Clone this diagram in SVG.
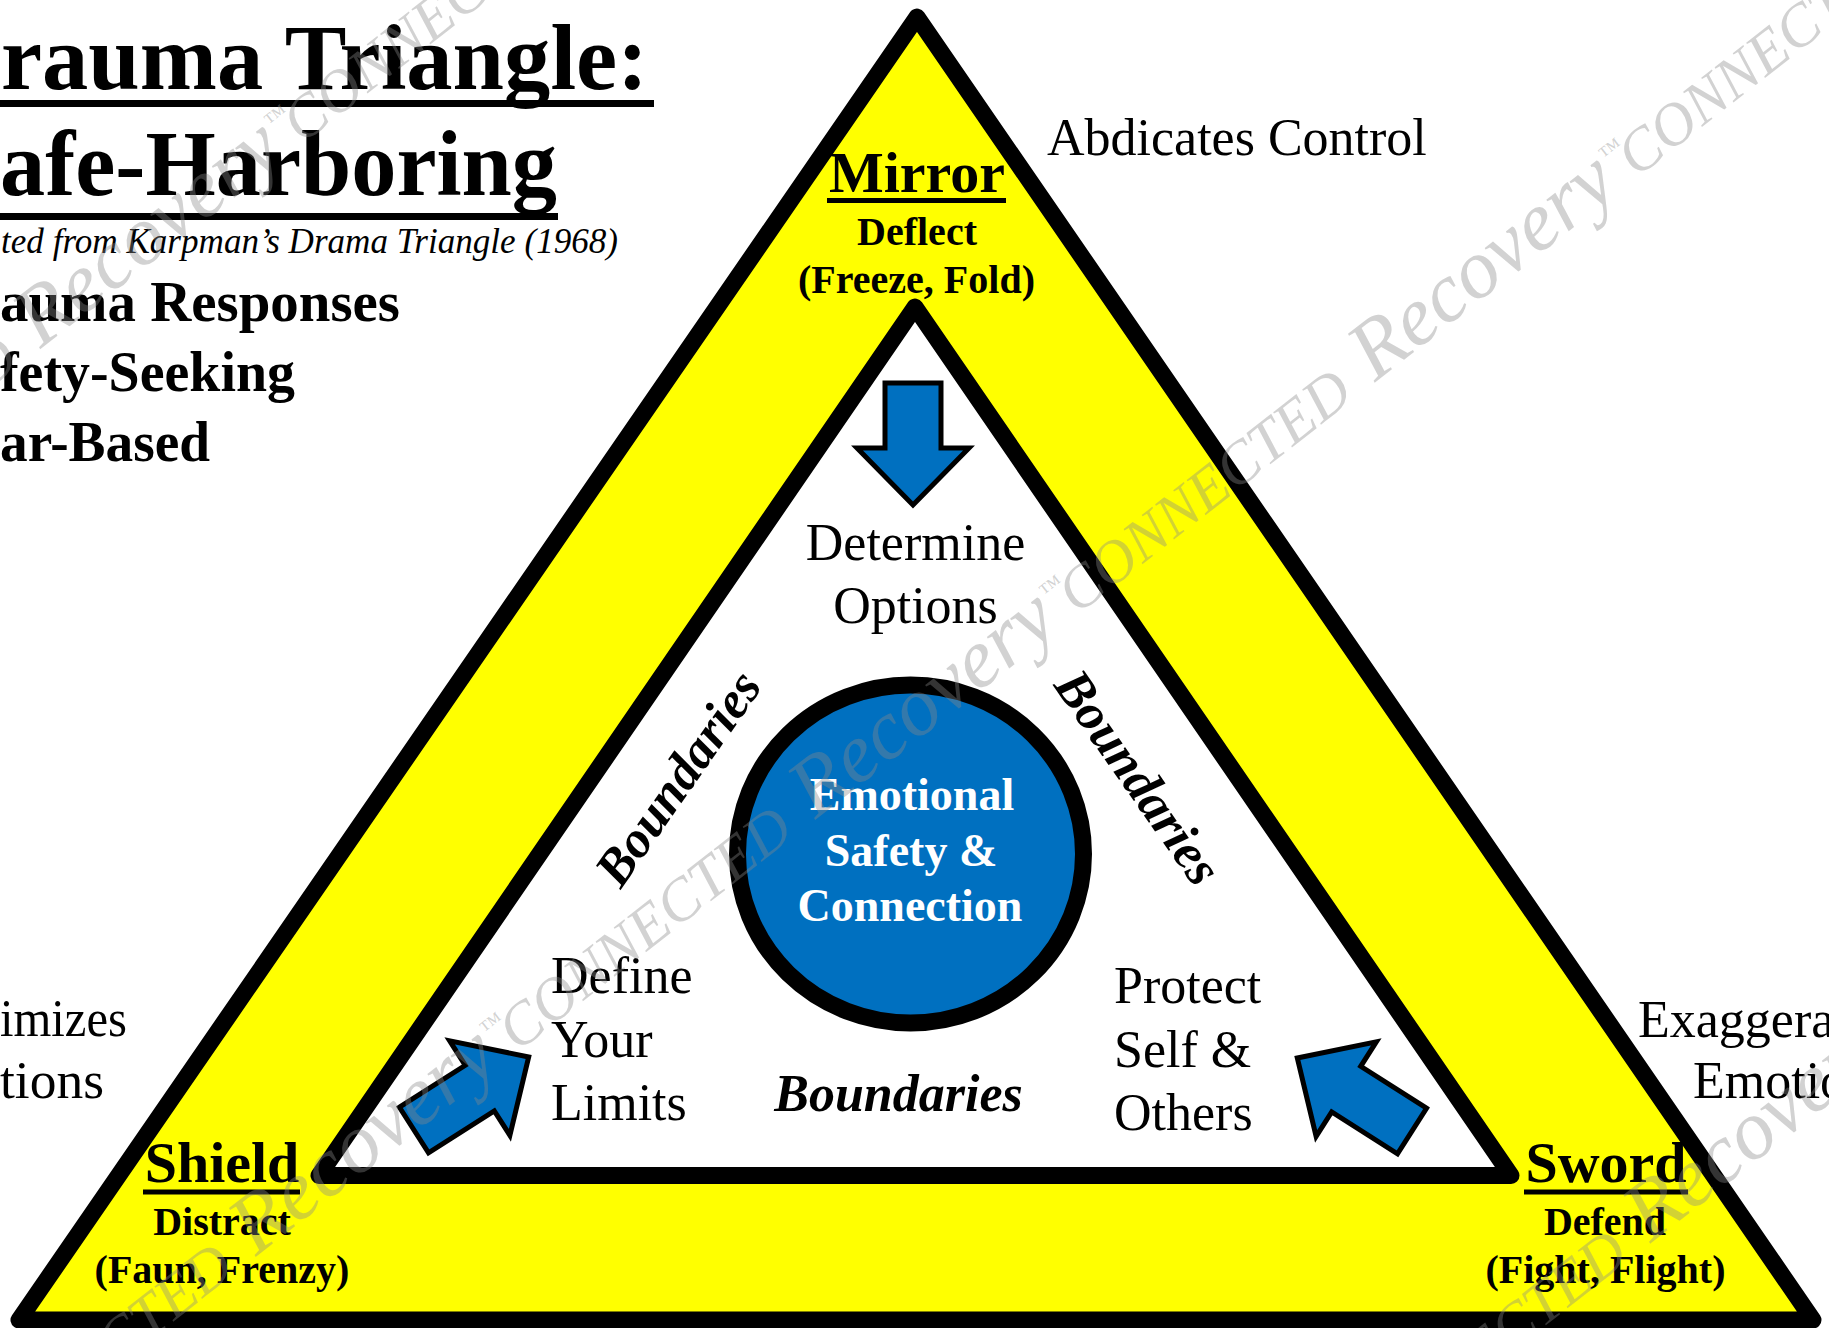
<svg xmlns="http://www.w3.org/2000/svg" width="1829" height="1328" viewBox="0 0 1829 1328">
<style>
  text { font-family: "Liberation Serif", "Times New Roman", serif; fill: #000; }
  .b { font-weight: bold; }
  .i { font-style: italic; }
  .mid { text-anchor: middle; }
  .end { text-anchor: end; }
  .lbl { font-size: 52px; }
  .role { font-size: 58px; font-weight: bold; text-anchor: middle; }
  .sub { font-size: 40px; font-weight: bold; text-anchor: middle; }
  .white { fill: #fff; }
  .blue { fill: #0070C0; stroke: #000; stroke-width: 5; stroke-linejoin: miter; }
  .wm text { fill: #8a8a8a; fill-opacity: 0.38; font-style: italic; }
</style>
<defs>
  <path id="blockArrow" d="M0,-27 H78 V-56 L136,0 L78,56 V27 H0 Z"/>
</defs>
<rect width="1829" height="1328" fill="#fff"/>

<g id="title">
  <text class="b" x="1" y="89" font-size="93" textLength="647" lengthAdjust="spacingAndGlyphs">rauma Triangle:</text>
  <rect x="0" y="100" width="654" height="7" fill="#000"/>
  <text class="b" x="0" y="195" font-size="94" textLength="557" lengthAdjust="spacingAndGlyphs">afe-Harboring</text>
  <rect x="0" y="213" width="558" height="7" fill="#000"/>
  <text class="i" x="1" y="253" font-size="36" textLength="617" lengthAdjust="spacingAndGlyphs">ted from Karpman’s Drama Triangle (1968)</text>
  <text class="b" x="0" y="321" font-size="57" textLength="400" lengthAdjust="spacingAndGlyphs">auma Responses</text>
  <text class="b" x="0" y="391" font-size="57" textLength="295" lengthAdjust="spacingAndGlyphs">fety-Seeking</text>
  <text class="b" x="0" y="461" font-size="57" textLength="210" lengthAdjust="spacingAndGlyphs">ar-Based</text>
</g>

<g id="outer-triangle">
  <polygon points="917,17 19,1320 1813,1320" fill="#ffff00" stroke="#000" stroke-width="17" stroke-linejoin="round"/>
</g>
<g id="inner-triangle">
  <polygon points="915,307 319,1175.5 1511,1175.5" fill="#fff" stroke="#000" stroke-width="17" stroke-linejoin="round"/>
</g>

<g id="center-circle">
  <ellipse cx="910.5" cy="854" rx="173" ry="169" fill="#0070C0" stroke="#000" stroke-width="17"/>
  <text class="b mid white" x="912" y="810" font-size="46">Emotional</text>
  <text class="b mid white" x="911" y="866" font-size="46">Safety &amp;</text>
  <text class="b mid white" x="910" y="921" font-size="46">Connection</text>
</g>

<g id="connectors">
  <path class="blue" d="M885,383 H941 V448 H969 L913,505 L857,448 H885 Z"/>
  <use href="#blockArrow" class="blue" transform="translate(414,1130) rotate(-32.5)"/>
  <use href="#blockArrow" class="blue" transform="translate(1412,1131) scale(-1,1) rotate(-32.5)"/>
</g>

<g id="node-mirror">
  <text class="role" x="917" y="192">Mirror</text>
  <rect x="827" y="198" width="179" height="5" fill="#000"/>
  <text class="sub" x="917" y="245">Deflect</text>
  <text class="sub" x="916.5" y="293">(Freeze, Fold)</text>
</g>
<g id="node-shield">
  <text class="role" x="222" y="1182">Shield</text>
  <rect x="143" y="1189.5" width="157" height="5" fill="#000"/>
  <text class="sub" x="222" y="1235">Distract</text>
  <text class="sub" x="222" y="1283">(Faun, Frenzy)</text>
</g>
<g id="node-sword">
  <text class="role" x="1606" y="1182">Sword</text>
  <rect x="1524" y="1189.5" width="164" height="5" fill="#000"/>
  <text class="sub" x="1605" y="1235">Defend</text>
  <text class="sub" x="1605.5" y="1283">(Fight, Flight)</text>
</g>

<g id="outer-labels">
  <text class="lbl" x="1047" y="155">Abdicates Control</text>
  <text class="lbl" x="0" y="1036" textLength="127" lengthAdjust="spacingAndGlyphs">imizes</text>
  <text class="lbl" x="0" y="1098" textLength="104" lengthAdjust="spacingAndGlyphs">tions</text>
  <text class="lbl" x="1638" y="1037">Exaggera</text>
  <text class="lbl" x="1693" y="1098">Emotio</text>
</g>

<g id="inner-labels">
  <text class="lbl mid" x="915.5" y="560">Determine</text>
  <text class="lbl mid" x="915.5" y="623">Options</text>
  <text class="lbl" x="551" y="993">Define</text>
  <text class="lbl" x="551" y="1057">Your</text>
  <text class="lbl" x="551" y="1120">Limits</text>
  <text class="lbl" x="1114" y="1003">Protect</text>
  <text class="lbl" x="1114" y="1067">Self &amp;</text>
  <text class="lbl" x="1114" y="1130">Others</text>
  <text class="lbl b i mid" x="898.5" y="1111">Boundaries</text>
  <text class="lbl b i mid" transform="translate(692,788) rotate(-55)">Boundaries</text>
  <text class="lbl b i mid" transform="translate(1124,787) rotate(55)">Boundaries</text>
</g>

<g class="wm" transform="rotate(-38)">
  <text y="300">
    <tspan x="-561" font-size="60">CONNECTED</tspan><tspan x="-183" font-size="84">Recovery</tspan><tspan x="134" dy="-30" font-size="24">™</tspan>
    <tspan x="149" dy="30" font-size="60">CONNECTED</tspan>
  </text>
  <text y="1148">
    <tspan x="-950" font-size="60">CONNECTED</tspan><tspan x="-572" font-size="84">Recovery</tspan><tspan x="-255" dy="-30" font-size="24">™</tspan>
    <tspan x="-240" dy="30" font-size="60">CONNECTED</tspan><tspan x="138" font-size="84">Recovery</tspan><tspan x="455" dy="-30" font-size="24">™</tspan>
    <tspan x="470" dy="30" font-size="60">CONNECTED</tspan><tspan x="848" font-size="84">Recovery</tspan><tspan x="1165" dy="-30" font-size="24">™</tspan>
    <tspan x="1180" dy="30" font-size="60">CONNECTED</tspan>
  </text>
  <text y="1996">
    <tspan x="157" font-size="60">CONNECTED</tspan><tspan x="535" font-size="84">Recovery</tspan>
  </text>
</g>
</svg>
